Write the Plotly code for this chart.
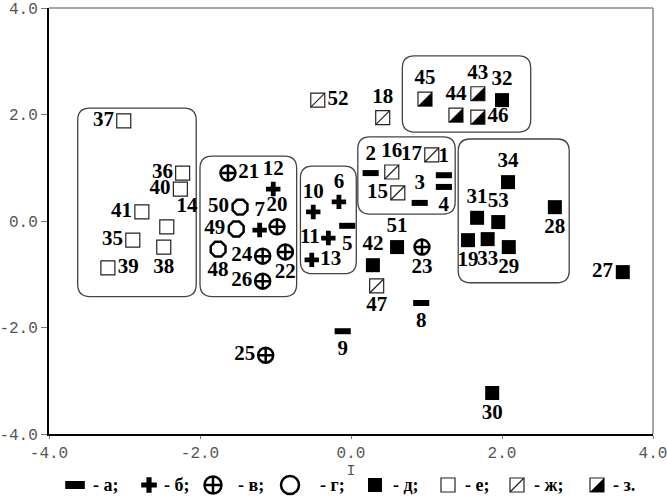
import plotly.graph_objects as go

# ---------------- data ----------------
# group а (dash)
lab_a = ["1", "2", "3", "4", "5", "8", "9"]
x_a = [1.23, 0.26, 0.91, 1.23, -0.05, 0.93, -0.11]
y_a = [0.86, 0.90, 0.34, 0.64, -0.09, -1.54, -2.07]
# group б (plus)
lab_b = ["6", "7", "10", "11", "12", "13"]
x_b = [-0.16, -1.21, -0.50, -0.30, -1.03, -0.52]
y_b = [0.36, -0.17, 0.17, -0.32, 0.60, -0.73]
# group в (circle with cross)
lab_v = ["20", "21", "22", "23", "24", "25", "26"]
x_v = [-0.98, -1.63, -0.87, 0.94, -1.17, -1.13, -1.17]
y_v = [-0.11, 0.90, -0.58, -0.49, -0.66, -2.52, -1.13]
# group г (open octagon)
lab_g = ["48", "49", "50"]
x_g = [-1.76, -1.52, -1.47]
y_g = [-0.53, -0.15, 0.26]
# group д (filled square)
lab_d = ["19", "27", "28", "29", "30", "31", "32", "33", "34", "42", "51", "53"]
x_d = [1.55, 3.60, 2.70, 2.09, 1.87, 1.67, 2.00, 1.81, 2.08, 0.29, 0.61, 1.95]
y_d = [-0.36, -0.96, 0.26, -0.49, -3.23, 0.06, 2.27, -0.34, 0.73, -0.83, -0.49, -0.02]
# group е (open square)
lab_e = ["14", "35", "36", "37", "38", "39", "40", "41"]
x_e = [-2.44, -2.89, -2.23, -3.01, -2.48, -3.22, -2.26, -2.77]
y_e = [-0.11, -0.36, 0.90, 1.88, -0.49, -0.88, 0.60, 0.17]
# group ж (square with slash)
lab_zh = ["15", "16", "17", "18", "47", "52"]
x_zh = [0.62, 0.54, 1.07, 0.42, 0.34, -0.44]
y_zh = [0.53, 0.92, 1.24, 1.94, -1.22, 2.27]
# group з (half-filled square)
lab_z = ["43", "44", "45", "46"]
x_z = [1.68, 1.39, 0.98, 1.68]
y_z = [2.39, 1.99, 2.29, 1.95]

legend_names = ["а", "б", "в", "г", "д", "е", "ж", "з"]
tick_vals = [-4, -2, 0, 2, 4]
tick_text = ["-4.0", "-2.0", "0.0", "2.0", "4.0"]

# ---------------- styling / layout ----------------
LABEL_POS = {
    "1": "top center", "2": "top center", "3": "top center", "4": "bottom center",
    "5": "bottom center", "8": "bottom center", "9": "bottom center",
    "6": "top center", "7": "top center", "10": "top center", "11": "middle left",
    "12": "top center", "13": "middle right",
    "20": "top center", "21": "middle right", "22": "bottom center", "23": "bottom center",
    "24": "middle left", "25": "middle left", "26": "middle left",
    "48": "bottom center", "49": "middle left", "50": "middle left",
    "19": "bottom center", "27": "middle left", "28": "bottom center", "29": "bottom center",
    "30": "bottom center", "31": "top center", "32": "top center", "33": "bottom center",
    "34": "top center", "42": "top center", "51": "top center", "53": "top center",
    "14": "top right", "35": "middle left", "36": "middle left", "37": "middle left",
    "38": "bottom center", "39": "middle right", "40": "middle left", "41": "middle left",
    "15": "middle left", "16": "top center", "17": "middle left", "18": "top center",
    "47": "bottom center", "52": "middle right",
    "43": "top center", "44": "top center", "45": "top center", "46": "middle right",
}

BLACK = "#000000"
OUT = "#222222"
M_A = dict(symbol="line-ew", size=11.5, color=BLACK, line=dict(color=BLACK, width=6))
M_B = dict(symbol="cross", size=12, color=BLACK, line=dict(width=0))
M_V = dict(symbol="circle-cross-open", size=15, color=BLACK, line=dict(color=BLACK, width=2.5))
M_G = dict(symbol="octagon-open", size=16, color=BLACK, line=dict(color=BLACK, width=2.5))
M_D = dict(symbol="square", size=14, color=BLACK, line=dict(width=0))
M_E = dict(symbol="square-open", size=14, color=OUT, line=dict(color=OUT, width=1.2))
M_SL = dict(symbol="line-ne", size=14, color=OUT, line=dict(color=OUT, width=1.2))
HALF = 7  # half side of the half-filled square, px

LABEL_FONT = dict(family="Liberation Serif", size=21, color=BLACK, weight="bold")
TICK_FONT = dict(family="Liberation Mono", size=16, color="#555555")

# rounded cluster boxes (data coords): x0, x1, y0, y1
BOXES = [
    (-3.62, -2.05, -1.42, 2.12),
    (-2.00, -0.72, -1.42, 1.22),
    (-0.67, 0.07, -0.99, 1.03),
    (0.09, 1.38, 0.13, 1.58),
    (0.68, 2.38, 1.67, 3.10),
    (1.42, 2.89, -1.16, 1.54),
]
RX, RY = 0.16, 0.23

W, H = 667, 498
ML, MR, MT, MB = 49, 14, 8, 5
PLOT_H = H - MT - MB
AX_BOTTOM = 434
D0 = (H - MB - AX_BOTTOM) / PLOT_H

fig = go.Figure()


def add_group(labels, xs, ys, marker, with_text=True):
    fig.add_trace(go.Scatter(
        x=xs, y=ys, mode="markers+text" if with_text else "markers",
        marker=marker,
        text=labels if with_text else None,
        textposition=[LABEL_POS[l] for l in labels] if with_text else None,
        textfont=LABEL_FONT, cliponaxis=False, showlegend=False, hoverinfo="skip",
    ))


add_group(lab_a, x_a, y_a, M_A)
add_group(lab_b, x_b, y_b, M_B)
add_group(lab_v, x_v, y_v, M_V)
add_group(lab_g, x_g, y_g, M_G)
add_group(lab_d, x_d, y_d, M_D)
add_group(lab_e, x_e, y_e, M_E)
add_group(lab_zh, x_zh, y_zh, M_E)
add_group(lab_zh, x_zh, y_zh, M_SL, with_text=False)
add_group(lab_z, x_z, y_z, M_E)

shapes = []


def half_fill(xa, ya, xref, yref, h=HALF):
    return dict(type="path", xref=xref, yref=yref, xsizemode="pixel", ysizemode="pixel",
                xanchor=xa, yanchor=ya,
                path=f"M {-h},{-h} L {h},{-h} L {h},{h} Z",
                fillcolor=BLACK, line=dict(width=0), layer="above")


for xa, ya in zip(x_z, y_z):
    shapes.append(half_fill(xa, ya, "x", "y"))


def rounded(x0, x1, y0, y1, rx=RX, ry=RY):
    return (f"M {x0+rx},{y0} L {x1-rx},{y0} Q {x1},{y0} {x1},{y0+ry} "
            f"L {x1},{y1-ry} Q {x1},{y1} {x1-rx},{y1} L {x0+rx},{y1} "
            f"Q {x0},{y1} {x0},{y1-ry} L {x0},{y0+ry} Q {x0},{y0} {x0+rx},{y0} Z")


for b in BOXES:
    shapes.append(dict(type="path", xref="x", yref="y", path=rounded(*b),
                       line=dict(color="#444444", width=1.3), layer="below"))

# top & right frame lines (grey)
shapes.append(dict(type="line", xref="x domain", yref="y domain", x0=0, x1=1, y0=1, y1=1,
                   line=dict(color="#888888", width=1.5)))
shapes.append(dict(type="line", xref="x domain", yref="y domain", x0=1, x1=1, y0=0, y1=1,
                   line=dict(color="#888888", width=1.5)))

# ---------------- manual legend row (x2/y2 in pixel-like units) ----------------
LEG_SYM_X = [75, 149, 213, 290, 375, 448, 517, 597]
LEG_TXT_X = [91, 162, 236, 318, 391, 463, 532, 611]
LEG_Y = H - MB - 485
leg_markers = [
    dict(M_A, size=14, line=dict(color=BLACK, width=8)),
    dict(M_B, size=13),
    dict(M_V, size=17),
    dict(M_G, symbol="circle-open", size=18),
    M_D, M_E, M_E, M_E,
]
for i, mk in enumerate(leg_markers):
    fig.add_trace(go.Scatter(x=[LEG_SYM_X[i]], y=[LEG_Y], xaxis="x2", yaxis="y2",
                             mode="markers", marker=mk, showlegend=False,
                             hoverinfo="skip", cliponaxis=False))
fig.add_trace(go.Scatter(x=[LEG_SYM_X[6]], y=[LEG_Y], xaxis="x2", yaxis="y2",
                         mode="markers", marker=M_SL, showlegend=False,
                         hoverinfo="skip", cliponaxis=False))
shapes.append(half_fill(LEG_SYM_X[7], LEG_Y, "x2", "y2"))

annotations = []
for i, nm in enumerate(legend_names):
    end = "." if i == len(legend_names) - 1 else ";"
    annotations.append(dict(x=LEG_TXT_X[i], y=LEG_Y, xref="x2", yref="y2",
                            text=f"- {nm}{end}", showarrow=False, xanchor="left",
                            yanchor="middle",
                            font=dict(family="Liberation Serif", size=18, color=BLACK,
                                      weight="bold")))

fig.update_layout(
    width=W, height=H,
    margin=dict(l=ML, r=MR, t=MT, b=MB, autoexpand=False),
    paper_bgcolor="white", plot_bgcolor="white",
    shapes=shapes, annotations=annotations,
    xaxis=dict(range=[-4, 4], tickvals=tick_vals, ticktext=tick_text, showgrid=False,
               zeroline=False, showline=True, linecolor=BLACK, linewidth=2,
               ticks="outside", ticklen=3, tickcolor="#777777", tickfont=TICK_FONT,
               automargin=False, ticklabeloverflow="allow",
               title=dict(text="I", font=dict(family="Liberation Mono", size=15,
                                                 color="#555555"), standoff=0),
               anchor="y"),
    yaxis=dict(range=[-4, 4], domain=[D0, 1], tickvals=tick_vals, ticktext=tick_text,
               showgrid=False, zeroline=False, showline=True, linecolor=BLACK,
               linewidth=2, ticks="outside", ticklen=6, tickcolor="#777777",
               tickfont=TICK_FONT, automargin=False, ticklabeloverflow="allow"),
    xaxis2=dict(range=[ML, W - MR], domain=[0, 1], anchor="y2", visible=False),
    yaxis2=dict(range=[0, H - MB - AX_BOTTOM], domain=[0, D0], anchor="x2", visible=False),
)

fig.write_html("out.html", config={"displayModeBar": False},
               post_script="document.body.style.margin='0';document.body.style.overflow='hidden';")
